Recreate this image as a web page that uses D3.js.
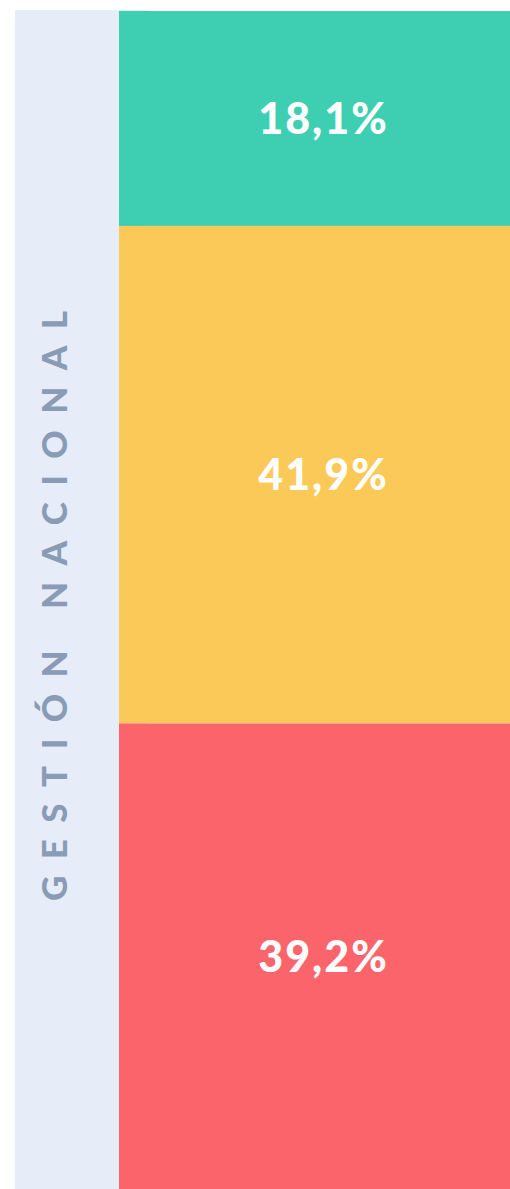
<!DOCTYPE html>
<html lang="es">
<head>
<meta charset="utf-8">
<title>Gestión nacional</title>
<script src="https://cdn.jsdelivr.net/npm/d3@7"></script>
<style>
body { margin: 0; background: #fff; }
svg { display: block; }
.pct { font-family: Lato, "Open Sans", sans-serif; font-weight: 900; fill: #fff; letter-spacing: 2px; }
.side { font-family: Lato, "Open Sans", sans-serif; font-weight: 900; fill: #8a9bb5; }
</style>
</head>
<body>
<div id="chart"></div>
<script>

// segments, top to bottom
var segments = ["a", "b", "c"];
var values = [18.1, 41.9, 39.2];
var labels = ["18,1%", "41,9%", "39,2%"];
var colors = ["#3ecfb2", "#fbc957", "#fb646b"];
var sideLabel = "GESTIÓN NACIONAL";

var width = 510, height = 1189;
var barTop = 11, barBottom = 1189;
var panel = {x: 15, y: 10, w: 133};
var barLeft = 119, barRight = 510;

var svg = d3.select("#chart").append("svg")
    .attr("width", width)
    .attr("height", height);

// label panel sits behind the bars
svg.append("rect")
    .attr("x", panel.x)
    .attr("y", panel.y)
    .attr("width", panel.w)
    .attr("height", barBottom - panel.y)
    .attr("fill", "#e6ecf8");

var total = d3.sum(values);
var y = d3.scaleLinear().domain([0, total]).range([barTop, barBottom]);

var stacked = [];
var acc = 0;
values.forEach(function(v, i) {
    stacked.push({key: segments[i], y0: acc, y1: acc + v, label: labels[i], color: colors[i]});
    acc += v;
});

var seg = svg.selectAll(".seg")
    .data(stacked)
    .enter().append("g")
        .attr("class", "seg");

seg.append("rect")
    .attr("x", barLeft)
    .attr("width", barRight - barLeft)
    .attr("y", function(d) { return y(d.y0); })
    .attr("height", function(d) { return y(d.y1) - y(d.y0); })
    .attr("fill", function(d) { return d.color; });

seg.append("text")
    .attr("class", "pct")
    .attr("x", (barLeft + barRight) / 2 + 9)
    .attr("y", function(d) { return (y(d.y0) + y(d.y1)) / 2; })
    .attr("dy", "0.36em")
    .attr("text-anchor", "middle")
    .style("font-size", "43px")
    .text(function(d) { return d.label; });

svg.append("text")
    .attr("class", "side")
    .attr("transform", "translate(67,606) rotate(-90)")
    .attr("text-anchor", "middle")
    .attr("textLength", 590)
    .attr("lengthAdjust", "spacing")
    .style("font-size", "35px")
    .text(sideLabel);

</script>
</body>
</html>
